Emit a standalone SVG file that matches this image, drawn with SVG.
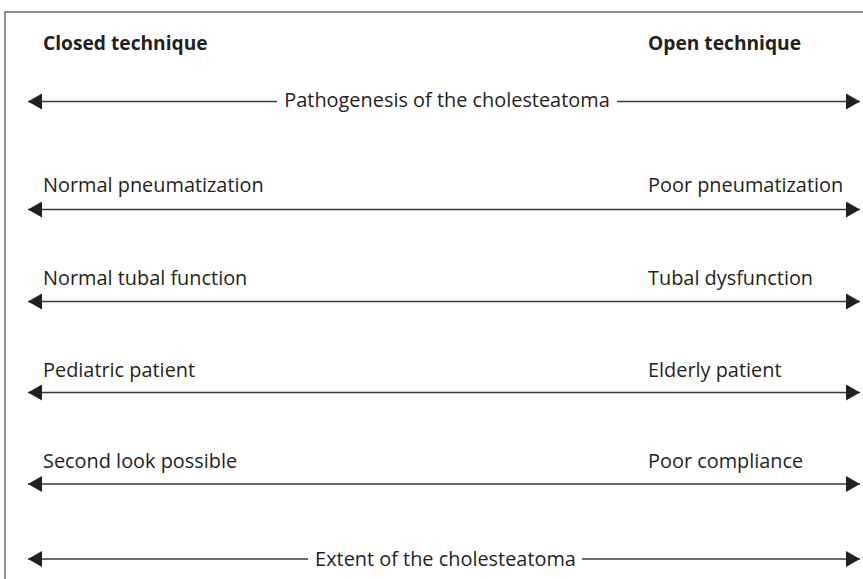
<svg xmlns="http://www.w3.org/2000/svg" width="863" height="579" viewBox="0 0 863 579">
  <style>
    .frame { fill: none; stroke: #6d6d6d; stroke-width: 1.5; }
    .head { font-family: "Open Sans", "Noto Sans", sans-serif; font-weight: bold; font-size: 19.2px; fill: #231f20; }
    .lbl { font-family: "Open Sans", "Noto Sans", sans-serif; font-size: 19.9px; fill: #231f20; }
    .mid { text-anchor: middle; }
    .axis { stroke: #3a3a3a; stroke-width: 1.6; fill: none; }
  </style>
  <defs>
    <marker id="arrowR" viewBox="0 0 14 16" refX="14" refY="8" markerWidth="14" markerHeight="16" markerUnits="userSpaceOnUse" orient="auto">
      <path d="M0,0 L14,8 L0,16 Z" fill="#231f20"/>
    </marker>
    <marker id="arrowL" viewBox="0 0 14 16" refX="0" refY="8" markerWidth="14" markerHeight="16" markerUnits="userSpaceOnUse" orient="auto">
      <path d="M14,0 L0,8 L14,16 Z" fill="#231f20"/>
    </marker>
  </defs>

  <rect x="0" y="0" width="863" height="579" fill="#ffffff"/>
  <!-- open frame: top and left edges -->
  <path class="frame" d="M5,579 L5,12 L863,12"/>

  <g id="headings">
    <text class="head" x="43" y="50">Closed technique</text>
    <text class="head" x="648" y="50">Open technique</text>
  </g>

  <g id="connectors">
    <line class="axis" x1="28" y1="101.5" x2="277" y2="101.5" marker-start="url(#arrowL)"/>
    <line class="axis" x1="617" y1="101.5" x2="860" y2="101.5" marker-end="url(#arrowR)"/>
    <line class="axis" x1="28" y1="209.5" x2="860" y2="209.5" marker-start="url(#arrowL)" marker-end="url(#arrowR)"/>
    <line class="axis" x1="28" y1="301.5" x2="860" y2="301.5" marker-start="url(#arrowL)" marker-end="url(#arrowR)"/>
    <line class="axis" x1="28" y1="392.5" x2="860" y2="392.5" marker-start="url(#arrowL)" marker-end="url(#arrowR)"/>
    <line class="axis" x1="28" y1="484" x2="860" y2="484" marker-start="url(#arrowL)" marker-end="url(#arrowR)"/>
    <line class="axis" x1="28" y1="559" x2="308" y2="559" marker-start="url(#arrowL)"/>
    <line class="axis" x1="582" y1="559" x2="860" y2="559" marker-end="url(#arrowR)"/>
  </g>

  <g id="pathogenesis">
    <text class="lbl mid" x="447" y="107">Pathogenesis of the cholesteatoma</text>
  </g>
  <g id="pneumatization">
    <text class="lbl" x="43" y="192">Normal pneumatization</text>
    <text class="lbl" x="648" y="192">Poor pneumatization</text>
  </g>
  <g id="tubal">
    <text class="lbl" x="43" y="285">Normal tubal function</text>
    <text class="lbl" x="648" y="285">Tubal dysfunction</text>
  </g>
  <g id="patient">
    <text class="lbl" x="43" y="377">Pediatric patient</text>
    <text class="lbl" x="648" y="377">Elderly patient</text>
  </g>
  <g id="followup">
    <text class="lbl" x="43" y="468">Second look possible</text>
    <text class="lbl" x="648" y="468">Poor compliance</text>
  </g>
  <g id="extent">
    <text class="lbl mid" x="445.5" y="566">Extent of the cholesteatoma</text>
  </g>
</svg>
